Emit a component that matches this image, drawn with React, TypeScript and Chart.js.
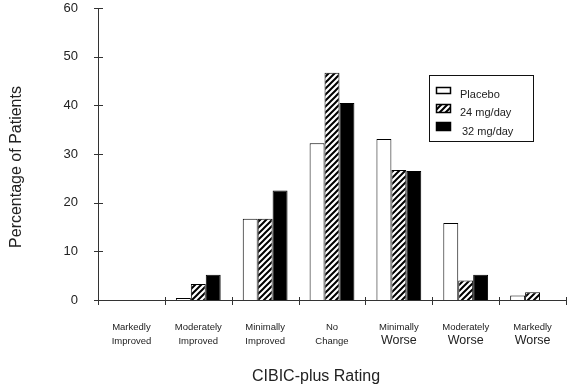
import React, { useEffect, useRef } from "react";
import { Chart, registerables } from "chart.js";

Chart.register(...registerables);

const categories: string[][] = [
  ["Markedly", "Improved"],
  ["Moderately", "Improved"],
  ["Minimally", "Improved"],
  ["No", "Change"],
  ["Minimally", "Worse"],
  ["Moderately", "Worse"],
  ["Markedly", "Worse"],
];
const seriesNames = ["Placebo", "24 mg/day", "32 mg/day"];
const placebo = [0, 0.4, 16.7, 32.2, 33.1, 15.8, 0.9];
const mg24 = [0, 3.3, 16.7, 46.7, 26.7, 4.0, 1.6];
const mg32 = [0, 5.2, 22.5, 40.5, 26.5, 5.2, 0];
const yTicks = [0, 10, 20, 30, 40, 50, 60];
const xTitle = "CIBIC-plus Rating";
const yTitle = "Percentage of Patients";

const FONT = "'Liberation Sans', Arial, sans-serif";
const TEXT = "#222";
const AXIS = "#333";

function makeHatch(): CanvasPattern | string {
  const c = document.createElement("canvas");
  c.width = 6;
  c.height = 6;
  const g = c.getContext("2d");
  if (!g) return "#777";
  g.fillStyle = "#fff";
  g.fillRect(0, 0, 6, 6);
  g.strokeStyle = "#000";
  g.lineWidth = 2;
  g.beginPath();
  g.moveTo(-1, 7);
  g.lineTo(7, -1);
  g.moveTo(-4, 4);
  g.lineTo(4, -4);
  g.moveTo(2, 10);
  g.lineTo(10, 2);
  g.stroke();
  const p = g.createPattern(c, "repeat");
  return p || "#777";
}

export default function App() {
  const ref = useRef<HTMLCanvasElement | null>(null);
  useEffect(() => {
    document.body.style.margin = "0";
    const canvas = ref.current;
    if (!canvas) return;
    const hatch = makeHatch();
    const fills: any[] = ["#ffffff", hatch, "#000000"];

    const overlay = {
      id: "overlay",
      afterDraw(chart: any) {
        const ctx = chart.ctx as CanvasRenderingContext2D;
        const xs = chart.scales.x;
        const ys = chart.scales.y;
        const area = chart.chartArea;
        ctx.save();
        ctx.strokeStyle = AXIS;
        ctx.lineWidth = 1;
        ctx.beginPath();
        ctx.moveTo(area.left + 0.5, area.top);
        ctx.lineTo(area.left + 0.5, area.bottom);
        ctx.moveTo(area.left, area.bottom + 0.5);
        ctx.lineTo(area.right, area.bottom + 0.5);
        yTicks.forEach((v) => {
          const y = Math.round(ys.getPixelForValue(v)) + 0.5;
          ctx.moveTo(area.left - 4, y);
          ctx.lineTo(area.left + 5, y);
        });
        const step = xs.getPixelForValue(1) - xs.getPixelForValue(0);
        for (let i = 0; i <= categories.length; i++) {
          const x = xs.getPixelForValue(0) - step / 2 + i * step;
          const px = Math.round(x) + 0.5;
          ctx.moveTo(px, area.bottom - 3);
          ctx.lineTo(px, area.bottom + 5);
        }
        ctx.stroke();

        ctx.fillStyle = TEXT;
        ctx.textAlign = "center";
        ctx.textBaseline = "middle";
        categories.forEach((lines, i) => {
          const x = xs.getPixelForValue(i);
          ctx.font = `9.5px ${FONT}`;
          ctx.fillText(lines[0], x, area.bottom + 27);
          const big = lines[1] === "Worse";
          ctx.font = `${big ? 12.5 : 9.5}px ${FONT}`;
          ctx.fillText(lines[1], x, area.bottom + 41);
        });

        ctx.font = `16px ${FONT}`;
        ctx.fillText(xTitle, (area.left + area.right) / 2 - 16, 377);
        ctx.save();
        ctx.translate(17, 167);
        ctx.rotate(-Math.PI / 2);
        ctx.fillText(yTitle, 0, 0);
        ctx.restore();

        const lx = 429, ly = 75, lw = 104, lh = 66;
        ctx.fillStyle = "#fff";
        ctx.fillRect(lx, ly, lw, lh);
        ctx.strokeStyle = "#111";
        ctx.lineWidth = 1;
        ctx.strokeRect(lx + 0.5, ly + 0.5, lw, lh);
        const rows = [
          { by: 87, bh: 6, ty: 95, tx: 460 },
          { by: 104, bh: 8, ty: 112.5, tx: 460 },
          { by: 122, bh: 8, ty: 131.5, tx: 462 },
        ];
        ctx.textAlign = "left";
        ctx.font = `11px ${FONT}`;
        rows.forEach((r, i) => {
          ctx.fillStyle = fills[i];
          ctx.fillRect(436, r.by, 14, r.bh);
          ctx.strokeStyle = "#000";
          ctx.lineWidth = 1.5;
          ctx.strokeRect(436.5, r.by + 0.5, 14, r.bh);
          ctx.fillStyle = TEXT;
          ctx.fillText(seriesNames[i], r.tx, r.ty);
        });
        ctx.restore();
      },
    };

    const chart = new Chart(canvas, {
      type: "bar",
      data: {
        labels: categories.map((c) => c.join(" ")),
        datasets: [placebo, mg24, mg32].map((d, i) => ({
          label: seriesNames[i],
          data: d,
          backgroundColor: fills[i],
          borderColor: "#000",
          borderWidth: 1,
          barPercentage: 1,
          categoryPercentage: 0.67,
        })),
      },
      options: {
        animation: false,
        responsive: false,
        layout: { padding: { top: 8, right: 7, left: 0, bottom: 0 } },
        plugins: { legend: { display: false }, tooltip: { enabled: false } },
        scales: {
          x: {
            grid: { display: false, drawTicks: false },
            border: { display: false },
            ticks: { display: false },
            afterFit: (s: any) => {
              s.height = 89;
              s.paddingLeft = 0;
              s.paddingRight = 0;
            },
          },
          y: {
            min: 0,
            max: 60,
            grid: { display: false, drawTicks: false },
            border: { display: false },
            afterBuildTicks: (s: any) => {
              s.ticks = yTicks.map((v) => ({ value: v }));
            },
            ticks: {
              padding: 20,
              color: TEXT,
              font: { family: FONT, size: 13 },
            },
            afterFit: (s: any) => {
              s.width = 98;
              s.paddingTop = 0;
              s.paddingBottom = 0;
            },
          },
        },
      },
      plugins: [overlay],
    });
    return () => chart.destroy();
  }, []);
  return <canvas ref={ref} width={573} height={389} style={{ display: "block" }} />;
}
